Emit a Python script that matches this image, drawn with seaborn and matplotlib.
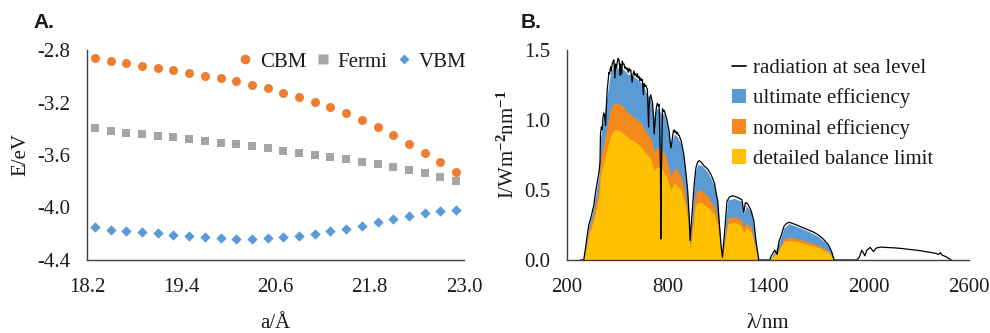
import numpy as np
import pandas as pd
import matplotlib
matplotlib.use("Agg")
import matplotlib.pyplot as plt
import seaborn as sns
from matplotlib.lines import Line2D
from matplotlib.patches import Patch

# ---------------- Panel A data ----------------
lattice_a = [18.3, 18.5, 18.7, 18.9, 19.1, 19.3, 19.5, 19.7, 19.9, 20.1, 20.3, 20.5,
             20.7, 20.9, 21.1, 21.3, 21.5, 21.7, 21.9, 22.1, 22.3, 22.5, 22.7, 22.9]
cbm = [-2.858, -2.884, -2.902, -2.919, -2.940, -2.955, -2.975, -2.998, -3.016, -3.036,
       -3.067, -3.092, -3.125, -3.156, -3.194, -3.235, -3.283, -3.331, -3.387, -3.448,
       -3.517, -3.587, -3.656, -3.730]
fermi = [-3.397, -3.417, -3.430, -3.440, -3.455, -3.465, -3.478, -3.493, -3.506, -3.519,
         -3.534, -3.549, -3.567, -3.582, -3.600, -3.615, -3.633, -3.651, -3.669, -3.689,
         -3.712, -3.737, -3.765, -3.796]
vbm = [-4.151, -4.169, -4.176, -4.187, -4.197, -4.207, -4.217, -4.227, -4.235, -4.237,
       -4.237, -4.232, -4.225, -4.215, -4.202, -4.179, -4.162, -4.138, -4.110, -4.087,
       -4.062, -4.039, -4.027, -4.019]
a_ticks = [18.2, 19.4, 20.6, 21.8, 23.0]
e_ticks = [-2.8, -3.2, -3.6, -4.0, -4.4]

# ---------------- Panel B data ----------------
wavelength = [280, 300, 310, 320, 330, 340, 350, 360, 370, 380, 390, 397,
              400, 405, 410, 415, 420, 425, 430, 435, 440, 445, 450, 455, 460, 465, 470,
              475, 480, 486, 490, 495, 500, 505, 510, 515, 518, 520, 527, 530, 535, 540,
              545, 550, 555, 560, 565, 570, 575, 580, 589, 595, 600, 605, 610, 615, 620,
              625, 630, 635, 640, 645, 650, 656, 660, 665, 670, 675, 680, 687, 690, 695,
              700, 705, 710, 715, 720, 725, 730, 735, 740, 745, 750, 758, 760, 763, 770,
              775, 780, 785, 790, 795, 800, 805, 810, 815, 820, 825, 830, 835, 840, 845,
              850, 855, 860, 865, 870, 875, 880, 885, 890, 895, 900,
              910, 920, 930, 935, 940,
              950, 960, 970, 980, 990, 1000, 1020, 1040, 1060, 1080, 1090, 1100, 1110,
              1120, 1128, 1135, 1145, 1155, 1170, 1190, 1210, 1230, 1245, 1255, 1265,
              1280, 1300, 1315, 1330, 1345, 1410, 1420, 1440, 1455, 1465, 1480, 1495,
              1510, 1525, 1550, 1580, 1610, 1640, 1670, 1700, 1730, 1760, 1780, 1795,
              1930, 1945, 1960, 1970, 1978, 1990, 2010, 2030, 2045, 2070, 2100, 2150,
              2200, 2250, 2300, 2350, 2400, 2420, 2430, 2440, 2460, 2480, 2495]
radiation = [0.0, 0.0, 0.08, 0.17, 0.25, 0.29, 0.34, 0.39, 0.48, 0.55, 0.62, 0.70,
             0.90, 0.95, 0.93, 1.02, 1.05, 1.03, 0.96, 1.10, 1.22, 1.27, 1.34, 1.33, 1.38,
             1.35, 1.40, 1.42, 1.43, 1.30, 1.40, 1.37, 1.41, 1.44, 1.43, 1.38, 1.32, 1.40,
             1.33, 1.42, 1.40, 1.40, 1.37, 1.38, 1.36, 1.37, 1.34, 1.37, 1.35, 1.36, 1.27,
             1.33, 1.35, 1.32, 1.33, 1.31, 1.33, 1.30, 1.31, 1.28, 1.30, 1.28, 1.29, 1.18,
             1.26, 1.24, 1.25, 1.23, 1.22, 0.95, 1.10, 1.16, 1.18, 1.15, 1.13, 1.05, 0.90,
             0.98, 1.05, 1.10, 1.12, 1.10, 1.11, 0.65, 0.15, 0.60, 1.08, 1.06, 1.07, 1.05,
             1.03, 1.01, 0.98, 0.95, 0.92, 0.85, 0.80, 0.83, 0.88, 0.92, 0.93, 0.91, 0.92,
             0.90, 0.91, 0.89, 0.89, 0.87, 0.86, 0.83, 0.80, 0.77, 0.73,
             0.62, 0.50, 0.30, 0.14, 0.22,
             0.38, 0.55, 0.66, 0.70, 0.71, 0.70, 0.67, 0.65, 0.61, 0.55, 0.48, 0.42, 0.25,
             0.10, 0.02, 0.12, 0.26, 0.42, 0.45, 0.46, 0.45, 0.44, 0.43, 0.34, 0.41, 0.40,
             0.35, 0.28, 0.12, 0.0, 0.0, 0.03, 0.07, 0.04, 0.13, 0.18, 0.24, 0.26, 0.27,
             0.26, 0.245, 0.23, 0.215, 0.20, 0.18, 0.15, 0.11, 0.06, 0.0, 0.0, 0.02, 0.07,
             0.05, 0.03, 0.07, 0.09, 0.06, 0.085, 0.092, 0.090, 0.087, 0.082, 0.075, 0.068,
             0.058, 0.048, 0.040, 0.052, 0.035, 0.025, 0.010, 0.0]

fill_nm = [300, 310, 330, 350, 370, 390, 400, 420, 440, 460, 480, 500, 520, 540, 560, 580,
           600, 620, 640, 660, 680, 700, 720, 740, 760, 780, 800, 820, 840, 860, 880, 900,
           920, 935, 950, 965, 980, 1000, 1040, 1080, 1100, 1120, 1128, 1145, 1160, 1200,
           1240, 1255, 1270, 1300, 1330, 1345, 1410, 1440, 1465, 1495, 1525, 1580, 1640,
           1700, 1760, 1795]
ultimate = [0.0, 0.08, 0.24, 0.33, 0.46, 0.60, 0.87, 1.02, 1.18, 1.34, 1.38, 1.37, 1.37,
            1.36, 1.33, 1.32, 1.31, 1.29, 1.27, 1.23, 1.18, 1.14, 1.02, 1.09, 1.05, 1.04,
            0.95, 0.82, 0.90, 0.88, 0.83, 0.70, 0.48, 0.14, 0.37, 0.62, 0.68, 0.68, 0.63,
            0.53, 0.41, 0.10, 0.02, 0.25, 0.43, 0.44, 0.42, 0.33, 0.39, 0.34, 0.11, 0.0,
            0.0, 0.06, 0.12, 0.23, 0.26, 0.235, 0.205, 0.17, 0.105, 0.0]
nominal = [0.0, 0.07, 0.21, 0.29, 0.40, 0.52, 0.72, 0.84, 0.96, 1.08, 1.12, 1.12, 1.11,
           1.09, 1.06, 1.04, 1.02, 1.00, 0.98, 0.94, 0.90, 0.87, 0.77, 0.81, 0.78, 0.77,
           0.70, 0.60, 0.66, 0.64, 0.60, 0.50, 0.35, 0.10, 0.27, 0.46, 0.50, 0.50, 0.46,
           0.38, 0.29, 0.07, 0.015, 0.18, 0.30, 0.31, 0.29, 0.23, 0.27, 0.23, 0.07, 0.0,
           0.0, 0.04, 0.08, 0.15, 0.165, 0.15, 0.13, 0.105, 0.065, 0.0]
detailed = [0.0, 0.06, 0.18, 0.25, 0.34, 0.44, 0.60, 0.70, 0.80, 0.89, 0.93, 0.93, 0.92,
            0.90, 0.88, 0.86, 0.85, 0.83, 0.81, 0.78, 0.75, 0.72, 0.64, 0.67, 0.65, 0.63,
            0.58, 0.50, 0.55, 0.53, 0.50, 0.42, 0.29, 0.08, 0.22, 0.38, 0.41, 0.41, 0.38,
            0.32, 0.25, 0.06, 0.01, 0.15, 0.26, 0.27, 0.25, 0.20, 0.23, 0.20, 0.06, 0.0,
            0.0, 0.035, 0.07, 0.13, 0.14, 0.13, 0.11, 0.09, 0.055, 0.0]
nm_ticks = [200, 800, 1400, 2000, 2600]
i_ticks = [0.0, 0.5, 1.0, 1.5]

# ---------------- style ----------------
sns.set_theme(style="white")
plt.rcParams["font.family"] = ["Liberation Serif", "DejaVu Serif"]
plt.rcParams["mathtext.fontset"] = "custom"
plt.rcParams["mathtext.rm"] = "Liberation Serif"
plt.rcParams["mathtext.it"] = "Liberation Serif:italic"
plt.rcParams["mathtext.bf"] = "Liberation Serif:bold"
FS = 15
SPINE = "#404040"
TXT = "#1a1a1a"
C_ORANGE = "#ED7D31"
C_GRAY = "#A5A5A5"
C_BLUE = "#5B9BD5"
C_NOMINAL = "#F28A1E"
C_DETAILED = "#FFC000"

fig = plt.figure(figsize=(9.9, 3.33), dpi=100)
axA = fig.add_axes([87 / 990, 1 - 260 / 333, 377 / 990, 210 / 333])
axB = fig.add_axes([567 / 990, 1 - 260 / 333, 402 / 990, 210 / 333])

# ---------------- Panel A ----------------
dfA = pd.DataFrame({"a": lattice_a * 3,
                    "E": cbm + fermi + vbm,
                    "level": ["CBM"] * len(cbm) + ["Fermi"] * len(fermi) + ["VBM"] * len(vbm)})
sns.scatterplot(data=dfA[dfA.level == "CBM"], x="a", y="E", ax=axA, color=C_ORANGE,
                marker="o", s=42, linewidth=0, legend=False)
sns.scatterplot(data=dfA[dfA.level == "Fermi"], x="a", y="E", ax=axA, color=C_GRAY,
                marker="s", s=40, linewidth=0, legend=False)
sns.scatterplot(data=dfA[dfA.level == "VBM"], x="a", y="E", ax=axA, color=C_BLUE,
                marker="D", s=28, linewidth=0, legend=False)
axA.set_xlim(a_ticks[0], a_ticks[-1])
axA.set_ylim(e_ticks[-1], e_ticks[0])
axA.set_xticks(a_ticks)
axA.set_xticklabels([f"{t:.1f}" for t in a_ticks])
axA.set_yticks(e_ticks)
axA.set_yticklabels([f"{t:.1f}" for t in e_ticks])
axA.set_xlabel("a/Å", fontsize=FS, color=TXT)
axA.set_ylabel("E/eV", fontsize=FS, color=TXT)
axA.xaxis.set_label_coords(0.5, -0.255)
axA.yaxis.set_label_coords(-0.15, 0.5)

hA = [Line2D([], [], ls="", marker="o", ms=7, color=C_ORANGE, mec="none"),
      Line2D([], [], ls="", marker="s", ms=6.5, color=C_GRAY, mec="none"),
      Line2D([], [], ls="", marker="D", ms=5.5, color=C_BLUE, mec="none")]
axA.legend(hA, ["CBM", "Fermi", "VBM"], ncol=3, loc="upper left",
           bbox_to_anchor=(0.40, 0.99), frameon=False, fontsize=FS,
           handlelength=0.7, handletextpad=0.35, columnspacing=0.45,
           borderpad=0, borderaxespad=0, labelcolor=TXT)

# ---------------- Panel B ----------------
axB.fill_between(fill_nm, 0, ultimate, color=C_BLUE, lw=0)
axB.fill_between(fill_nm, 0, nominal, color=C_NOMINAL, lw=0)
axB.fill_between(fill_nm, 0, detailed, color=C_DETAILED, lw=0)
dfB = pd.DataFrame({"nm": wavelength, "I": radiation})
sns.lineplot(data=dfB, x="nm", y="I", ax=axB, color="black", lw=0.9,
             estimator=None, sort=False)
axB.set_xlim(nm_ticks[0], nm_ticks[-1])
axB.set_ylim(i_ticks[0], i_ticks[-1])
axB.set_xticks(nm_ticks)
axB.set_yticks(i_ticks)
axB.set_yticklabels([f"{t:.1f}" for t in i_ticks])
axB.set_xlabel("λ/nm", fontsize=FS, color=TXT)
axB.set_ylabel(r"I/Wm$^{\mathbf{-2}}$nm$^{\mathbf{-1}}$", fontsize=FS, color=TXT)
axB.xaxis.set_label_coords(0.5, -0.255)
axB.yaxis.set_label_coords(-0.12, 0.55)

hB = [Line2D([], [], color="black", lw=1.2),
      Patch(facecolor=C_BLUE, edgecolor="none"),
      Patch(facecolor=C_NOMINAL, edgecolor="none"),
      Patch(facecolor=C_DETAILED, edgecolor="none")]
axB.legend(hB, ["radiation at sea level", "ultimate efficiency",
                "nominal efficiency", "detailed balance limit"],
           loc="upper left", bbox_to_anchor=(0.41, 0.96), frameon=False,
           fontsize=FS, handlelength=0.7, handleheight=0.7, handletextpad=0.3,
           labelspacing=0.5, borderpad=0, borderaxespad=0, labelcolor=TXT)

for ax in (axA, axB):
    for side in ("top", "right"):
        ax.spines[side].set_visible(False)
    for side in ("left", "bottom"):
        ax.spines[side].set_color(SPINE)
        ax.spines[side].set_linewidth(1.0)
    ax.tick_params(axis="both", length=0, labelsize=FS, colors=TXT)
    ax.tick_params(axis="y", pad=12)
    ax.tick_params(axis="x", pad=13)
    ax.grid(False)

fig.text(33 / 990, 1 - 28 / 333, "A.", fontsize=15, fontweight="bold",
         family=["Liberation Sans", "DejaVu Sans"], color=TXT)
fig.text(521 / 990, 1 - 28 / 333, "B.", fontsize=15, fontweight="bold",
         family=["Liberation Sans", "DejaVu Sans"], color=TXT)

fig.savefig("out.png", dpi=100)
